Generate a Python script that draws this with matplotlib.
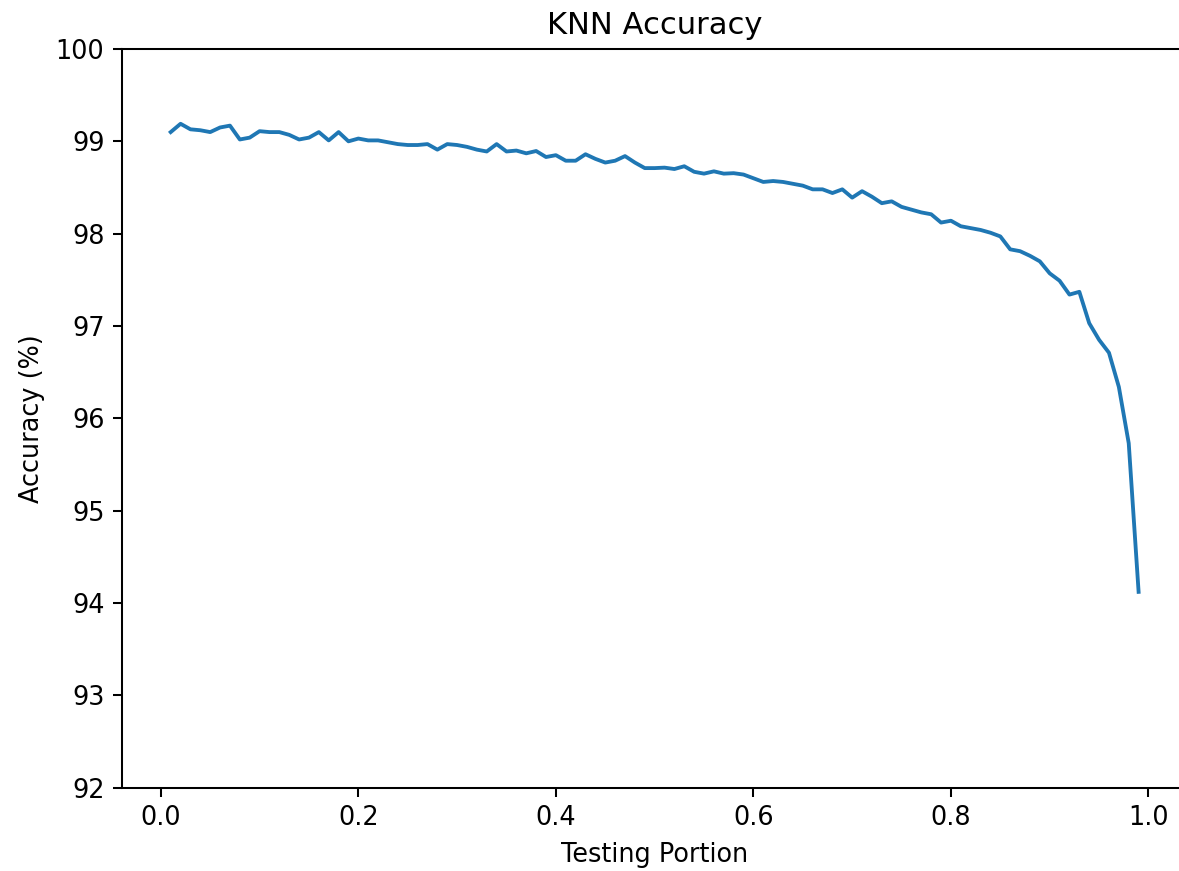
import numpy as np
import matplotlib
matplotlib.use("Agg")
import matplotlib.pyplot as plt

testing_portion = np.arange(1, 100) / 100.0
accuracy = [
    99.10, 99.19, 99.13, 99.12, 99.10, 99.15, 99.17, 99.02, 99.04, 99.11,
    99.10, 99.10, 99.07, 99.02, 99.04, 99.10, 99.01, 99.10, 99.00, 99.03,
    99.01, 99.01, 98.99, 98.97, 98.96, 98.96, 98.97, 98.91, 98.97, 98.96,
    98.94, 98.91, 98.89, 98.97, 98.89, 98.90, 98.87, 98.895, 98.83, 98.85,
    98.79, 98.79, 98.86, 98.81, 98.77, 98.79, 98.84, 98.77, 98.71, 98.71,
    98.715, 98.70, 98.73, 98.67, 98.65, 98.675, 98.65, 98.655, 98.64, 98.60,
    98.56, 98.57, 98.56, 98.54, 98.52, 98.48, 98.48, 98.44, 98.48, 98.39,
    98.46, 98.40, 98.33, 98.35, 98.29, 98.26, 98.23, 98.21, 98.12, 98.14,
    98.08, 98.06, 98.04, 98.01, 97.97, 97.83, 97.81, 97.76, 97.70, 97.57,
    97.49, 97.34, 97.37, 97.03, 96.85, 96.71, 96.34, 95.73, 94.12,
]

DPI = 184
fig = plt.figure(figsize=(1179 / DPI, 871 / DPI), dpi=DPI)
ax = fig.add_axes([122.3 / 1179, (871 - 787.6) / 871, (1187 - 122.3) / 1179, (787.6 - 49) / 871])

ax.plot(testing_portion, accuracy, color="#1f77b4", linewidth=1.5)
ax.set_ylim(92, 100)
ax.spines["right"].set_visible(False)
ax.set_title("KNN Accuracy")
ax.set_xlabel("Testing Portion")
ax.set_ylabel("Accuracy (%)")

fig.savefig("out.png", dpi=DPI)
